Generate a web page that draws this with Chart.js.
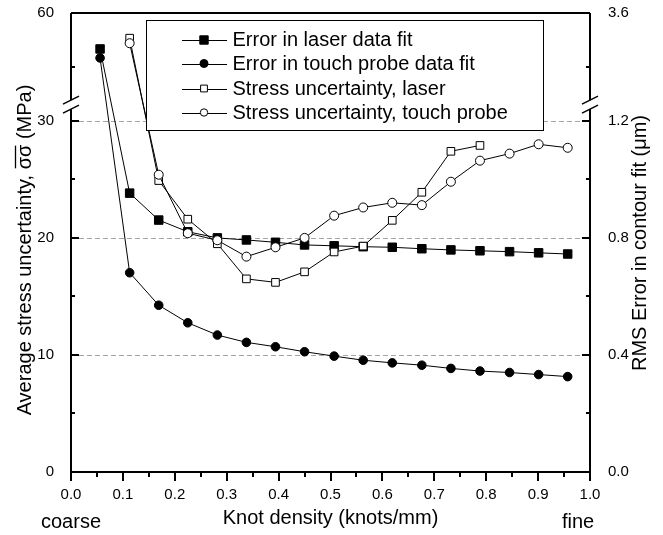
<!DOCTYPE html>
<html><head><meta charset="utf-8">
<script src="https://cdn.jsdelivr.net/npm/chart.js@4.4.1/dist/chart.umd.min.js"></script>
<style>html,body{margin:0;padding:0;background:#fff;overflow:hidden}</style>
</head><body>
<canvas id="c" width="663" height="535"></canvas>
<script>
// ---- data ----
const knotDensity = [0.056,0.113,0.169,0.225,0.282,0.338,0.394,0.450,0.507,0.563,0.619,0.676,0.732,0.788,0.845,0.901,0.957];
// RMS error in contour fit (µm), right axis
const laserFitRms = [2.80,0.953,0.861,0.821,0.800,0.793,0.785,0.776,0.773,0.770,0.768,0.763,0.759,0.756,0.753,0.749,0.745];
const probeFitRms = [2.60,0.681,0.570,0.510,0.468,0.443,0.428,0.411,0.396,0.382,0.373,0.365,0.354,0.345,0.340,0.333,0.326];
// Average stress uncertainty (MPa), left axis
const stressLaser = [null,53.0,24.9,21.6,19.5,16.5,16.2,17.1,18.8,19.3,21.5,23.9,27.4,27.9,null,null,null];
const stressProbe = [null,51.6,25.4,20.4,19.8,18.4,19.2,20.0,21.9,22.6,23.0,22.8,24.8,26.6,27.2,28.0,27.7];
const seriesNames = ['Error in laser data fit','Error in touch probe data fit','Stress uncertainty, laser','Stress uncertainty, touch probe'];
const leftTicks = [0,5,10,15,20,25,30,45,60];
const leftLabels = [0,10,20,30,60];
const rightTicks = [0,0.2,0.4,0.6,0.8,1.0,1.2,2.4,3.6];
const rightLabels = [0,0.4,0.8,1.2,3.6];
const gridValues = [10,20,30];
const BREAKS = { y:{at:30,frac:0.765}, y1:{at:1.2,frac:0.765} };

// ---- broken linear scale ----
class BrokenLinearScale extends Chart.LinearScale {
  getPixelForValue(value){
    const b = BREAKS[this.id];
    let t;
    if (value <= b.at) t = (value - this.min)/(b.at - this.min)*b.frac;
    else t = b.frac + (value - b.at)/(this.max - b.at)*(1-b.frac);
    return this.getPixelForDecimal(t);
  }
  getValueForPixel(pixel){
    const b = BREAKS[this.id];
    const t = this.getDecimalForPixel(pixel);
    return t <= b.frac ? this.min + t/b.frac*(b.at-this.min) : b.at + (t-b.frac)/(1-b.frac)*(this.max-b.at);
  }
}
BrokenLinearScale.id = 'brokenLinear';
BrokenLinearScale.defaults = {};
Chart.register(BrokenLinearScale);

const pts = arr => knotDensity.map((x,i)=>({x:x, y:arr[i]}));
const near = (a,v) => a.some(t=>Math.abs(t-v)<1e-6);

const FONT = 'Liberation Sans, Arial, sans-serif';

const decor = {
  id:'decor',
  beforeDatasetsDraw(chart){
    const {ctx, chartArea:a} = chart; const y = chart.scales.y;
    ctx.save();
    ctx.strokeStyle = '#a6a6a6'; ctx.lineWidth = 1; ctx.setLineDash([5,3]);
    gridValues.forEach(v=>{
      const py = Math.round(y.getPixelForValue(v))+0.5;
      ctx.beginPath(); ctx.moveTo(a.left, py); ctx.lineTo(a.right, py); ctx.stroke();
    });
    ctx.restore();
  },
  afterDraw(chart){
    const {ctx, chartArea:a} = chart;
    const sx = chart.scales.x, sy = chart.scales.y, sy1 = chart.scales.y1;
    ctx.save();
    ctx.strokeStyle = '#000'; ctx.lineWidth = 2; ctx.setLineDash([]);
    // frame
    ctx.beginPath();
    ctx.moveTo(a.left, a.top); ctx.lineTo(a.right, a.top);
    ctx.moveTo(a.left, a.top); ctx.lineTo(a.left, a.bottom);
    ctx.moveTo(a.right, a.top); ctx.lineTo(a.right, a.bottom);
    ctx.moveTo(a.left-1, a.bottom); ctx.lineTo(a.right+1, a.bottom);
    ctx.stroke();
    // ticks
    ctx.beginPath();
    sy.ticks.forEach(t=>{ const p = Math.round(sy.getPixelForValue(t.value)); const L = t.label!=='' ? 8 : 4; ctx.moveTo(a.left, p); ctx.lineTo(a.left+L, p); });
    sy1.ticks.forEach(t=>{ const p = Math.round(sy1.getPixelForValue(t.value)); const L = t.label!=='' ? 8 : 4; ctx.moveTo(a.right, p); ctx.lineTo(a.right-L, p); });
    sx.ticks.forEach(t=>{ const p = Math.round(sx.getPixelForValue(t.value)); const L = t.label!=='' ? 9 : 5; ctx.moveTo(p, a.bottom); ctx.lineTo(p, a.bottom+L); });
    ctx.stroke();
    // axis breaks
    const yc = sy.getPixelForValue(34.5);
    [a.left, a.right].forEach(x=>{
      ctx.fillStyle = '#fff'; ctx.fillRect(x-2, yc-4.5, 4, 9);
      ctx.lineWidth = 1.5; ctx.beginPath();
      [-4.5,4.5].forEach(d=>{ ctx.moveTo(x-8, yc+d+4); ctx.lineTo(x+8, yc+d-4); });
      ctx.stroke();
    });
    // legend
    const bx=146, by=20, bw=397, bh=110;
    ctx.fillStyle='#fff'; ctx.fillRect(bx,by,bw,bh);
    ctx.lineWidth=1; ctx.strokeStyle='#000'; ctx.strokeRect(bx+0.5,by+0.5,bw,bh);
    const rows=[40,63.5,88.5,112.5];
    ctx.font = '20px '+FONT; ctx.textBaseline='middle'; ctx.textAlign='left';
    chart.data.datasets.forEach((ds,i)=>{
      const ry=rows[i];
      ctx.strokeStyle='#000'; ctx.lineWidth=1;
      ctx.beginPath(); ctx.moveTo(182, Math.round(ry)+0.5); ctx.lineTo(227, Math.round(ry)+0.5); ctx.stroke();
      ctx.fillStyle = ds.pointBackgroundColor;
      ctx.beginPath();
      if (ds.pointStyle==='rect'){ const s = i===0?4.2:3.4; ctx.rect(204-s, ry-s, 2*s, 2*s); }
      else { const r = i===1?4:3.7; ctx.arc(204, ry, r, 0, Math.PI*2); }
      ctx.fill(); ctx.stroke();
      ctx.fillStyle='#000';
      ctx.fillText(ds.label, 232.5, ry+0.5);
    });
    // axis titles
    ctx.fillStyle='#000'; ctx.font='20px '+FONT; ctx.textBaseline='alphabetic';
    ctx.textAlign='center';
    ctx.fillText('Knot density (knots/mm)', (a.left+a.right)/2, 524);
    ctx.fillText('coarse', 71, 528);
    ctx.fillText('fine', 578, 528);
    // left title with overline
    const p1='Average stress uncertainty, ', p2='σσ', p3=' (MPa)';
    const w1=ctx.measureText(p1).width, w2=ctx.measureText(p2).width, w3=ctx.measureText(p3).width;
    const W=w1+w2+w3;
    ctx.save(); ctx.translate(31, 250); ctx.rotate(-Math.PI/2); ctx.textAlign='left';
    ctx.fillText(p1, -W/2, 0); ctx.fillText(p2, -W/2+w1, 0); ctx.fillText(p3, -W/2+w1+w2, 0);
    ctx.lineWidth=1.3; ctx.strokeStyle='#000'; ctx.beginPath();
    ctx.moveTo(-W/2+w1+1, -15.5); ctx.lineTo(-W/2+w1+w2-1, -15.5); ctx.stroke();
    ctx.restore();
    ctx.save(); ctx.translate(646, 243); ctx.rotate(-Math.PI/2); ctx.textAlign='center';
    ctx.fillText('RMS Error in contour fit (μm)', 0, 0);
    ctx.restore();
    ctx.restore();
  }
};

const lineDs = (label, data, axis, style, radius, fill, order) => ({
  label, data: pts(data), yAxisID: axis, order,
  borderColor:'#000', borderWidth:1, tension:0, fill:false,
  pointStyle: style, pointRadius: radius, pointHoverRadius: radius,
  pointBackgroundColor: fill, pointBorderColor:'#000', pointBorderWidth:1
});

const fitV = w => s => { s.width = w; s.paddingTop = 0; s.paddingBottom = 0; };

new Chart(document.getElementById('c'), {
  type:'line',
  data:{ datasets:[
    lineDs(seriesNames[0], laserFitRms, 'y1', 'rect', 6, '#000', 4),
    lineDs(seriesNames[1], probeFitRms, 'y1', 'circle', 4.3, '#000', 3),
    lineDs(seriesNames[2], stressLaser, 'y', 'rect', 5.4, '#fff', 2),
    lineDs(seriesNames[3], stressProbe, 'y', 'circle', 4.5, '#fff', 1)
  ]},
  options:{
    responsive:false, animation:false, events:[], devicePixelRatio:1,
    layout:{ padding:{ top:13, left:0, right:0, bottom:0 } },
    plugins:{ legend:{display:false}, tooltip:{enabled:false} },
    scales:{
      x:{ type:'linear', min:0, max:1,
        afterBuildTicks: s => { s.ticks = Array.from({length:21},(_,i)=>({value:i*0.05})); },
        afterFit: s => { s.height = 63; s.paddingLeft = 0; s.paddingRight = 0; },
        grid:{display:false}, border:{display:false},
        ticks:{ autoSkip:false, maxRotation:0, padding:6, color:'#000', font:{family:FONT,size:15},
          callback: v => (Math.round(v*100)%10===0) ? v.toFixed(1) : '' } },
      y:{ type:'brokenLinear', position:'left', min:0, max:60,
        afterBuildTicks: s => { s.ticks = leftTicks.map(v=>({value:v})); },
        afterFit: fitV(71),
        grid:{display:false}, border:{display:false},
        ticks:{ autoSkip:false, padding:9, color:'#000', font:{family:FONT,size:15},
          callback: v => near(leftLabels, v) ? String(v) : '' } },
      y1:{ type:'brokenLinear', position:'right', min:0, max:3.6,
        afterBuildTicks: s => { s.ticks = rightTicks.map(v=>({value:v})); },
        afterFit: fitV(73),
        grid:{display:false}, border:{display:false},
        ticks:{ autoSkip:false, padding:10, color:'#000', font:{family:FONT,size:15},
          callback: v => near(rightLabels, v) ? v.toFixed(1) : '' } }
    }
  },
  plugins:[decor]
});
</script>
</body></html>
